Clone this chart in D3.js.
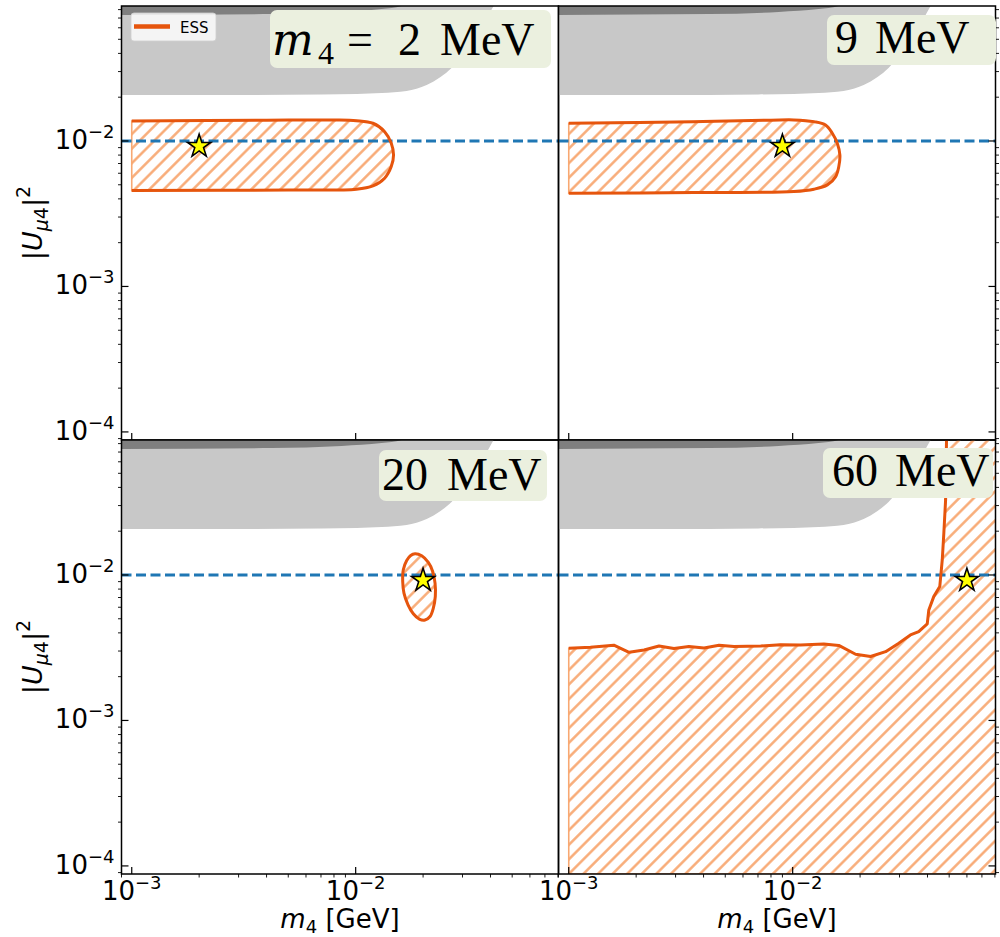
<!DOCTYPE html>
<html><head><meta charset="utf-8">
<script src="https://cdn.jsdelivr.net/npm/d3@7"></script>
<style>body{margin:0;background:#fff}svg{display:block}</style>
</head><body>
<svg id="chart" width="1000" height="937"></svg>
<script>
// ---------------- data ----------------
const massDomain = [9.0e-4, 0.0805];          // m4 [GeV]
const couplingDomain = [8.8e-5, 0.0847];      // |U_mu4|^2
const massTicks = [1e-3, 1e-2, 1e-1];
const massTickExp = ["3", "2", "1"];
const couplingTicks = [1e-4, 1e-3, 1e-2];
const couplingTickExp = ["4", "3", "2"];
const panelMassLabels = ["2", "9", "20", "60"];   // MeV
const benchmarkMass = [0.002, 0.009, 0.02, 0.06]; // GeV
const benchmarkU2 = 0.0092;
const referenceU2 = 0.01;

// existing constraints (same in every panel)
const lightGrayBoundary = [
  [0.0008,0.0207],[0.00252,0.0207],[0.00705,0.0209],[0.0101,0.02104],[0.01306,0.02138],
  [0.01687,0.02208],[0.02075,0.02427],[0.02393,0.02754],[0.0268,0.03177],[0.02972,0.03837],
  [0.03357,0.04864],[0.03724,0.0637],[0.0413,0.0847],[0.0440,0.1]
];
const darkGrayBoundary = [
  [0.0008,0.0735],[0.00422,0.0746],[0.00865,0.0771],[0.01306,0.0807],[0.01603,0.0847],[0.0175,0.1]
];

// ESS sensitivity contours
const ess2MeV = [
  [0.001,0.0137],[0.004,0.0139],[0.008,0.01395],[0.01007,0.0138],[0.01194,0.01324],[0.01347,0.01159],
  [0.01442,0.00964],[0.01476,0.00801],[0.01442,0.00667],[0.01347,0.00555],[0.01194,0.00491],
  [0.01007,0.00466],[0.005,0.0046],[0.001,0.00456]
];
const ess9MeV = [
  [0.001,0.01324],[0.00362,0.01358],[0.008,0.0139],[0.01012,0.01396],[0.01245,0.01358],[0.01402,0.01289],
  [0.01503,0.0113],[0.01582,0.00964],[0.01625,0.00801],[0.01607,0.00667],[0.01556,0.00569],
  [0.01428,0.00499],[0.01245,0.00466],[0.01012,0.00449],[0.00362,0.00442],[0.001,0.00437]
];
const ess20MeV = [
  [0.01841,0.01398],[0.01972,0.01355],[0.02111,0.01219],[0.02208,0.01057],[0.02262,0.0088],
  [0.02268,0.00712],[0.02222,0.00592],[0.02148,0.00518],[0.0204,0.0049],[0.01925,0.00497],
  [0.01809,0.00541],[0.01713,0.00624],[0.01643,0.00751],[0.01622,0.00902],[0.01632,0.01086],
  [0.0169,0.01258],[0.01761,0.01361]
];
const ess60MeV = [
  [0.001,0.00313],[0.00125,0.00318],[0.00159,0.00329],[0.00186,0.00294],[0.00217,0.00305],
  [0.00253,0.00325],[0.00295,0.00312],[0.00344,0.00322],[0.00402,0.00315],[0.00469,0.00329],
  [0.00547,0.00322],[0.0072,0.00325],[0.00883,0.00332],[0.01084,0.0033],[0.01377,0.00336],
  [0.01607,0.00328],[0.0191,0.00285],[0.02228,0.00275],[0.026,0.00297],[0.02979,0.0034],
  [0.03357,0.00387],[0.03656,0.00408],[0.0399,0.00461],[0.04055,0.00575],[0.04266,0.0071],
  [0.04539,0.00832],[0.04656,0.01268],[0.04732,0.01936],[0.04819,0.0328],[0.04864,0.0847]
];

// ---------------- layout ----------------
const W = 437, H = 434;
const panels = [
  {x0:121.5, y0:6,   contour:ess2MeV,  type:"band",   left:true,  bottom:false},
  {x0:558.5, y0:6,   contour:ess9MeV,  type:"band",   left:false, bottom:false},
  {x0:121.5, y0:440, contour:ess20MeV, type:"closed", left:true,  bottom:true},
  {x0:558.5, y0:440, contour:ess60MeV, type:"region", left:false, bottom:true}
];
const boxes = [
  {x:270, y:10,  w:281, h:58},
  {x:827, y:15,  w:169, h:50},
  {x:379, y:450, w:168, h:51},
  {x:823, y:448, w:170, h:50}
];
const ORANGE = "#e6550d", HATCH = "#f8a872", BLUE = "#1f77b4";

const svg = d3.select("#chart");
svg.append("rect").attr("width",1000).attr("height",937).attr("fill","#fff");
const defs = svg.append("defs");
const pat = defs.append("pattern").attr("id","hatch").attr("patternUnits","userSpaceOnUse")
  .attr("width",10.3).attr("height",10.3).attr("patternTransform","rotate(45)");
pat.append("line").attr("x1",5.15).attr("y1",0).attr("x2",5.15).attr("y2",10.3)
  .attr("stroke",HATCH).attr("stroke-width",2.4);

const x = d3.scaleLog().domain(massDomain).range([0, W]);
const y = d3.scaleLog().domain(couplingDomain).range([H, 0]);

panels.forEach((p, i) => {
  defs.append("clipPath").attr("id","clip"+i).append("rect").attr("width",W).attr("height",H);
  const g = svg.append("g").attr("transform",`translate(${p.x0},${p.y0})`);
  const gc = g.append("g").attr("clip-path",`url(#clip${i})`);

  // gray constraint regions
  const area = d3.area().x(d=>x(d[0])).y0(d=>y(d[1])).y1(-5).curve(d3.curveMonotoneX);
  gc.append("path").datum(lightGrayBoundary).attr("d",area).attr("fill","#c8c8c8");
  gc.append("path").datum(darkGrayBoundary).attr("d",area).attr("fill","#7f7f7f");

  // ESS hatched region
  let fillD, lineD;
  if (p.type === "band") {
    const ln = d3.line().x(d=>x(d[0])).y(d=>y(d[1])).curve(d3.curveCatmullRom);
    lineD = ln(p.contour); fillD = lineD + "Z";
  } else if (p.type === "closed") {
    const ln = d3.line().x(d=>x(d[0])).y(d=>y(d[1])).curve(d3.curveCatmullRomClosed);
    lineD = ln(p.contour); fillD = lineD;
  } else {
    const ln = d3.line().x(d=>x(d[0])).y(d=>y(d[1]));
    lineD = ln(p.contour);
    const poly = p.contour.concat([[massDomain[1]*1.05, couplingDomain[1]*1.2],[massDomain[1]*1.05, couplingDomain[0]],[p.contour[0][0], couplingDomain[0]]]);
    fillD = ln(poly) + "Z";
  }
  gc.append("path").attr("d",fillD).attr("fill","url(#hatch)").attr("stroke",HATCH).attr("stroke-width",1.6);

  // reference line
  gc.append("line").attr("x1",0).attr("x2",W).attr("y1",y(referenceU2)).attr("y2",y(referenceU2))
    .attr("stroke",BLUE).attr("stroke-width",3).attr("stroke-dasharray","10,4.5");

  // contour line
  gc.append("path").attr("d",lineD).attr("fill","none").attr("stroke",ORANGE)
    .attr("stroke-width",3).attr("stroke-linejoin","round");

  // benchmark star
  gc.append("path").attr("d",d3.symbol(d3.symbolStar).size(165)())
    .attr("transform",`translate(${x(benchmarkMass[i])},${y(benchmarkU2)})`)
    .attr("fill","#ffff00").attr("stroke","#000").attr("stroke-width",1.6);

  // ---- ticks ----
  const tk = g.append("g").attr("stroke","#000");
  const minorVals = a => { const out=[]; for (let e=-6;e<=0;e++) for (let k=2;k<=9;k++){const v=k*Math.pow(10,e); if(v>a.domain()[0]&&v<a.domain()[1]) out.push(v);} return out; };
  const ySideX = p.left ? 0 : W, ySign = p.left ? 1 : -1;
  couplingTicks.forEach(v => tk.append("line").attr("x1",ySideX).attr("x2",ySideX+ySign*7).attr("y1",y(v)).attr("y2",y(v)).attr("stroke-width",1.2));
  minorVals(y).forEach(v => tk.append("line").attr("x1",ySideX).attr("x2",ySideX-ySign*3.5).attr("y1",y(v)).attr("y2",y(v)).attr("stroke-width",0.9));
  massTicks.filter(v=>v>=massDomain[0]&&v<=massDomain[1]).forEach(v => tk.append("line").attr("x1",x(v)).attr("x2",x(v)).attr("y1",H).attr("y2",H-7).attr("stroke-width",1.2));
  if (p.bottom) minorVals(x).forEach(v => tk.append("line").attr("x1",x(v)).attr("x2",x(v)).attr("y1",H).attr("y2",H+3.5).attr("stroke-width",0.9));

  if (p.left) {
    couplingTicks.forEach((v,j) => {
      const t = g.append("text").attr("x",-7).attr("y",y(v)+8).attr("text-anchor","end")
        .attr("font-family","DejaVu Sans").attr("font-size",26).attr("fill","#000");
      t.append("tspan").text("10");
      t.append("tspan").attr("dy",-11).attr("font-size",18).text("\u2212"+couplingTickExp[j]);
    });
    const yl = g.append("text").attr("transform",`translate(-80,${H/2}) rotate(-90)`).attr("text-anchor","middle")
      .attr("font-family","DejaVu Sans").attr("font-size",27).attr("fill","#000");
    yl.append("tspan").text("|");
    yl.append("tspan").attr("font-style","italic").text("U");
    yl.append("tspan").attr("font-style","italic").attr("font-size",19).attr("dy",6).text("\u03bc");
    yl.append("tspan").attr("font-size",19).text("4");
    yl.append("tspan").attr("dy",-6).text("|");
    yl.append("tspan").attr("font-size",19).attr("dy",-12).text("2");
  }
  if (p.bottom) {
    massTicks.forEach((v,j) => {
      if (v < massDomain[0] || v > massDomain[1]) return;
      const t = g.append("text").attr("x",x(v)).attr("y",H+26).attr("text-anchor","middle")
        .attr("font-family","DejaVu Sans").attr("font-size",26).attr("fill","#000");
      t.append("tspan").text("10");
      t.append("tspan").attr("dy",-11).attr("font-size",18).text("\u2212"+massTickExp[j]);
    });
    const xl = g.append("text").attr("x",W/2).attr("y",H+54).attr("text-anchor","middle")
      .attr("font-family","DejaVu Sans").attr("font-size",26).attr("fill","#000");
    xl.append("tspan").attr("font-style","italic").text("m");
    xl.append("tspan").attr("font-size",18).attr("dy",5).text("4");
    xl.append("tspan").attr("dy",-5).text(" [GeV]");
  }

  // frame
  g.append("rect").attr("width",W).attr("height",H).attr("fill","none").attr("stroke","#000").attr("stroke-width",1.5);
});

// ---------------- title boxes ----------------
boxes.forEach((b,i) => {
  svg.append("rect").attr("x",b.x).attr("y",b.y).attr("width",b.w).attr("height",b.h).attr("rx",7)
    .attr("fill","#ebf0df");
});
const serif = "Liberation Serif";
function boxText(parts) {
  const t = svg.append("text").attr("font-family",serif).attr("font-size",46).attr("fill","#000");
  parts.forEach(pt => {
    const s = t.append("tspan").attr("x",pt.x).attr("y",pt.y).text(pt.s);
    if (pt.it) s.attr("font-style","italic");
    if (pt.fs) s.attr("font-size",pt.fs);
    if (pt.ff) s.attr("font-family",pt.ff);
  });
}
boxText([{s:"m",x:272,y:55,it:true,fs:44,ff:"DejaVu Serif"},{s:"4",x:318,y:64,fs:32},{s:"=",x:347,y:55},{s:panelMassLabels[0],x:398,y:55},{s:"MeV",x:440,y:55}]);
boxText([{s:panelMassLabels[1],x:835,y:53},{s:"MeV",x:875,y:53}]);
boxText([{s:panelMassLabels[2],x:382,y:490},{s:"MeV",x:447,y:490}]);
boxText([{s:panelMassLabels[3],x:832,y:486},{s:"MeV",x:895,y:486}]);

// ---------------- legend ----------------
const lg = svg.append("g");
lg.append("rect").attr("x",131).attr("y",13).attr("width",85).attr("height",28).attr("rx",3)
  .attr("fill","#fff").attr("fill-opacity",0.8).attr("stroke","#d0d0d0").attr("stroke-opacity",0.8);
lg.append("line").attr("x1",134).attr("x2",170).attr("y1",26.5).attr("y2",26.5).attr("stroke",ORANGE).attr("stroke-width",4.5);
lg.append("text").attr("x",180).attr("y",32.5).attr("font-family","DejaVu Sans").attr("font-size",15).attr("fill","#000").text("ESS");
</script></body></html>
